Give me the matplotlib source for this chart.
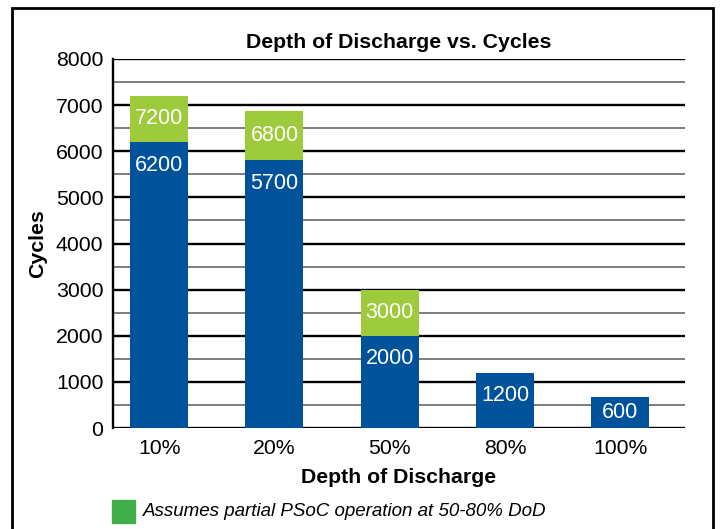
#!/usr/bin/env python3
"""Depth of discharge vs. cycles bar chart."""

import matplotlib

matplotlib.use("Agg")
import matplotlib.pyplot as plt
from matplotlib.patches import Rectangle

plt.rcParams["font.family"] = ["Liberation Sans", "DejaVu Sans"]

CATEGORIES = ["10%", "20%", "50%", "80%", "100%"]
# bar heights as drawn in the source (labels are the printed numbers)
BASE_HEIGHTS = [6200, 5800, 2000, 1200, 670]
BASE_LABELS = ["6200", "5700", "2000", "1200", "600"]
PSOC_TOPS = [7200, 6870, 3000, None, None]
PSOC_LABELS = ["7200", "6800", "3000", None, None]

BLUE = "#00529b"
LIGHT_GREEN = "#9dcb3c"
LEGEND_GREEN = "#3fae49"

fig = plt.figure(figsize=(7.2, 5.29), dpi=100)
ax = fig.add_axes([113 / 720, 1 - 428 / 529, 572 / 720, 369 / 529])

x = list(range(len(CATEGORIES)))
width = 0.503

# gridlines
for y in range(0, 8001, 500):
    if y % 1000 == 0:
        ax.axhline(y, color="black", linewidth=1.7, zorder=1)
    else:
        ax.axhline(y, color="#5a5a5a", linewidth=1.1, zorder=1)

ax.bar(x, BASE_HEIGHTS, width=width, color=BLUE, zorder=2)
for xi, base, top in zip(x, BASE_HEIGHTS, PSOC_TOPS):
    if top is not None:
        ax.bar(xi, top - base, bottom=base, width=width, color=LIGHT_GREEN, zorder=2)

for xi, base, label in zip(x, BASE_HEIGHTS, BASE_LABELS):
    y = base - min(500, base / 2)
    ax.text(xi, y, label, color="white", fontsize=15.5, ha="center", va="center", zorder=3)
for xi, base, top, label in zip(x, BASE_HEIGHTS, PSOC_TOPS, PSOC_LABELS):
    if top is not None:
        ax.text(xi, (base + top) / 2, label, color="white", fontsize=15.5,
                ha="center", va="center", zorder=3)

ax.set_xlim(-0.4, 4.56)
ax.set_ylim(0, 8000)
ax.set_yticks(range(0, 8001, 1000))
ax.set_xticks(x)
ax.set_xticklabels(CATEGORIES)
ax.tick_params(axis="both", length=0, labelsize=15.3)
ax.tick_params(axis="y", pad=7)
ax.tick_params(axis="x", pad=8)
for side in ("top", "right", "bottom"):
    ax.spines[side].set_visible(False)
ax.spines["left"].set_linewidth(1.7)

ax.set_title("Depth of Discharge vs. Cycles", fontsize=15.3, fontweight="bold", pad=8)
ax.set_ylabel("Cycles", fontsize=15.3, fontweight="bold", labelpad=6)
ax.set_xlabel("Depth of Discharge", fontsize=15.3, fontweight="bold", labelpad=7)

# legend note
fig.patches.append(Rectangle((112 / 720, 1 - 523 / 529), 23 / 720, 23 / 529,
                             transform=fig.transFigure, color=LEGEND_GREEN))
fig.text(143 / 720, 1 - 511 / 529, "Assumes partial PSoC operation at 50-80% DoD",
         fontsize=13.5, style="italic", va="center", ha="left")

# outer frame
fig.patches.append(Rectangle((12 / 720, -0.05), 701 / 720, 1.05 - 8 / 529,
                             transform=fig.transFigure, fill=False,
                             edgecolor="black", linewidth=2))

fig.savefig("out.png", dpi=100)
